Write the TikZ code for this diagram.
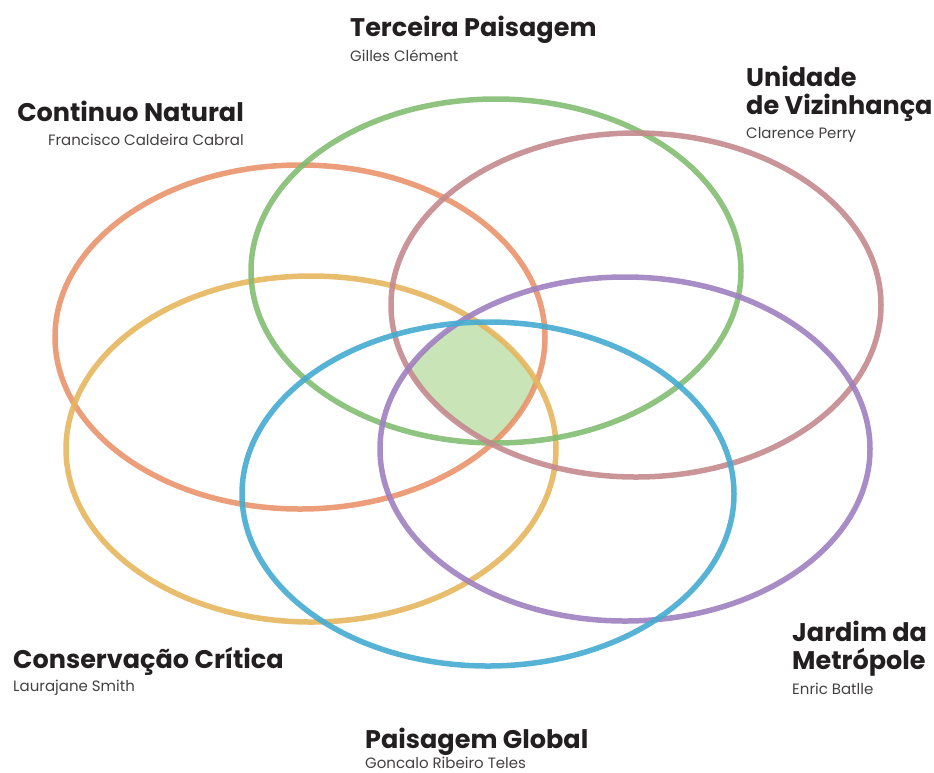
\documentclass[tikz,border=0pt]{standalone}
\usepackage{fontspec}
\setmainfont{Poppins}
\definecolor{corange}{HTML}{E9936A}
\definecolor{cgreen}{HTML}{82BC72}
\definecolor{cmauve}{HTML}{C48A8E}
\definecolor{cyellow}{HTML}{E5B65E}
\definecolor{cblue}{HTML}{45ABD1}
\definecolor{cpurple}{HTML}{9F80BF}
\definecolor{cfill}{HTML}{C9E4B7}
\definecolor{ctext}{HTML}{231F20}
\tikzset{
  ring/.style={line width=5.5pt, draw opacity=0.9},
  ttl/.style={font=\fontsize{25.5}{28}\selectfont\bfseries, text=ctext, inner sep=0pt, align=left},
  ttlr/.style={ttl, align=right},
  who/.style={font=\fontsize{15}{17}\selectfont, text=ctext!85, inner sep=0pt}
}
\begin{document}
\begin{tikzpicture}[x=1pt,y=-1pt]
\useasboundingbox (0,0) rectangle (934,772);
% shaded intersection
\begin{scope}
  \clip (300,337) ellipse [x radius=245, y radius=172];
  \clip (496,271) ellipse [x radius=245, y radius=172];
  \clip (636,305) ellipse [x radius=245, y radius=172];
  \clip (311,449) ellipse [x radius=245, y radius=173];
  \clip (488,494) ellipse [x radius=246, y radius=172];
  \fill[cfill] (625,449) ellipse [x radius=245, y radius=172];
\end{scope}
% rings
\draw[ring, corange] (300,337) ellipse [x radius=245, y radius=172];
\draw[ring, cyellow] (311,449) ellipse [x radius=245, y radius=173];
\draw[ring, cgreen]  (496,271) ellipse [x radius=245, y radius=172];
\draw[ring, cmauve]  (636,305) ellipse [x radius=245, y radius=172];
\draw[ring, cpurple] (625,449) ellipse [x radius=245, y radius=172];
\draw[ring, cblue]   (488,494) ellipse [x radius=246, y radius=172];
% labels
\node[ttl, anchor=base west] (t1) at (350,36) {Terceira Paisagem};
\node[who, anchor=base west] (n1) at (350,61) {Gilles Clément};

\node[ttlr, anchor=base east] (t2) at (244,121) {Continuo Natural};
\node[who, anchor=base east] (n2) at (244,145) {Francisco Caldeira Cabral};

\node[ttl, anchor=base west] (t3a) at (746,86) {Unidade};
\node[ttl, anchor=base west] (t3b) at (746,114) {de Vizinhança};
\node[who, anchor=base west] (n3) at (746,138) {Clarence Perry};

\node[ttl, anchor=base west] (t4) at (13,668) {Conservação Crítica};
\node[who, anchor=base west] (n4) at (13,691) {Laurajane Smith};

\node[ttl, anchor=base west] (t5a) at (792,641) {Jardim da};
\node[ttl, anchor=base west] (t5b) at (792,669) {Metrópole};
\node[who, anchor=base west] (n5) at (792,694) {Enric Batlle};

\node[ttl, anchor=base west] (t6) at (365,748) {Paisagem Global};
\node[who, anchor=base west] (n6) at (365,768) {Goncalo Ribeiro Teles};
\end{tikzpicture}
\end{document}
